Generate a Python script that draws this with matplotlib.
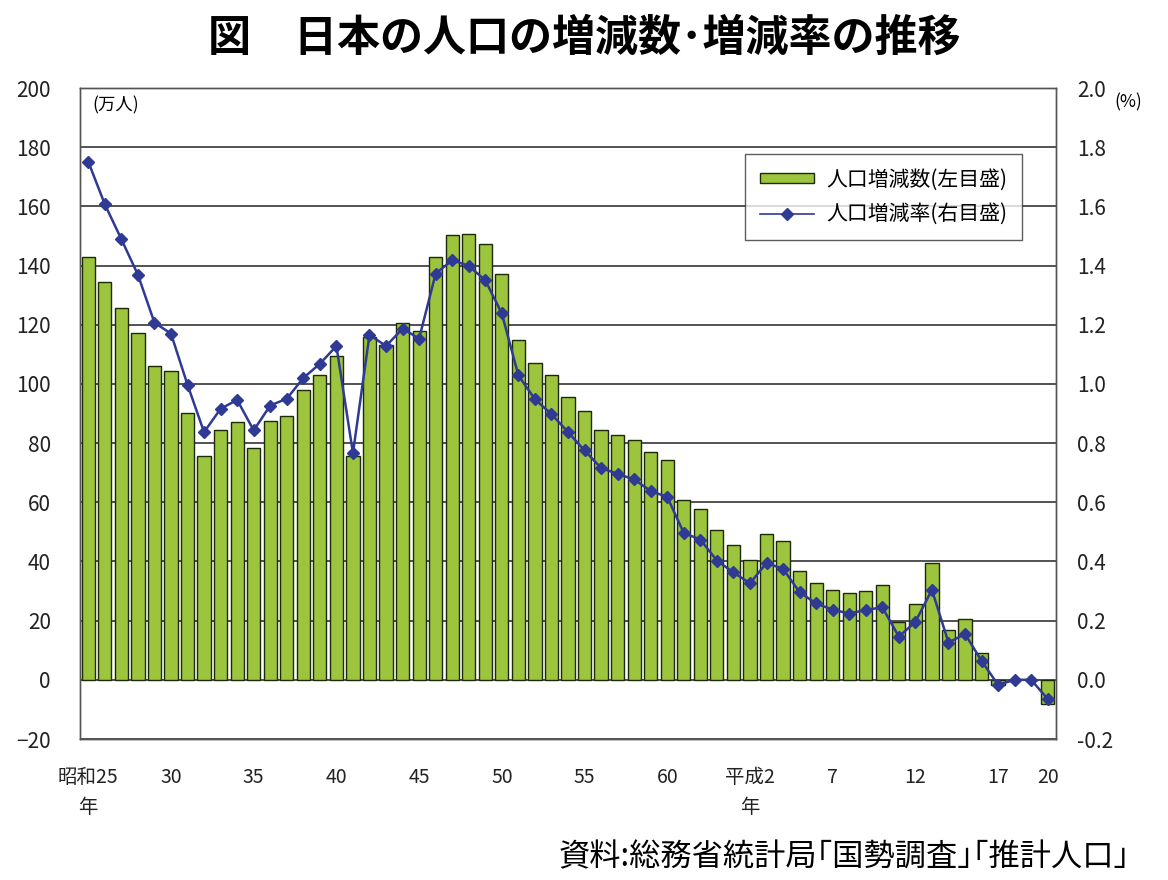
import numpy as np
import matplotlib
matplotlib.use("Agg")
import matplotlib.pyplot as plt
from matplotlib.patches import Patch
from matplotlib.lines import Line2D

plt.rcParams['font.family'] = ['Noto Sans CJK JP', 'DejaVu Sans']

# 昭和25年(1950) - 平成20年(2008)
change = [142.9, 134.5, 125.8, 117.2, 105.9, 104.2, 90.1, 75.8, 84.3, 87.1,
          78.2, 87.4, 89.1, 97.8, 102.9, 109.5, 75.8, 115.8, 113.0, 120.7,
          117.8, 142.9, 150.3, 150.8, 147.3, 137.2, 115.0, 107.0, 102.9, 95.5,
          90.8, 84.3, 82.8, 80.9, 76.9, 74.3, 60.8, 57.8, 50.7, 45.7,
          40.5, 49.3, 47.0, 36.9, 32.7, 30.5, 29.2, 29.9, 32.1, 19.7,
          25.6, 39.5, 16.9, 20.5, 9.0, -1.9, 0.1, 0.1, -8.2]
rate = [1.751, 1.607, 1.489, 1.369, 1.207, 1.170, 0.997, 0.837, 0.916, 0.946,
        0.843, 0.927, 0.950, 1.020, 1.068, 1.128, 0.766, 1.166, 1.128, 1.187,
        1.153, 1.373, 1.418, 1.399, 1.350, 1.238, 1.029, 0.948, 0.898, 0.837,
        0.775, 0.716, 0.696, 0.677, 0.638, 0.618, 0.496, 0.474, 0.403, 0.363,
        0.326, 0.395, 0.375, 0.296, 0.258, 0.237, 0.224, 0.236, 0.245, 0.146,
        0.196, 0.304, 0.126, 0.155, 0.064, -0.017, 0.000, 0.000, -0.065]
tick_pos = [0, 5, 10, 15, 20, 25, 30, 35, 40, 45, 50, 55, 58]
tick_labels = ["昭和25\n年", "30", "35", "40", "45", "50", "55", "60",
               "平成2\n年", "7", "12", "17", "20"]

bar_color = '#9cc43c'
line_color = '#2e3a94'
frame_color = '#555555'

fig = plt.figure(figsize=(11.68, 8.8), dpi=100)
ax = fig.add_axes([80 / 1168, 1 - 739 / 880, 976 / 1168, 651 / 880])
ax2 = ax.twinx()

x = np.arange(len(change))
ax.bar(x, change, width=0.8, color=bar_color, edgecolor='#1c2a05', linewidth=1.0, zorder=2)
ax.set_xlim(-0.5, len(change) - 0.5)
ax.set_ylim(-20, 200)
ax.set_yticks(np.arange(-20, 201, 20))
ax.yaxis.grid(True, color='#444444', linewidth=1.3)
ax.set_axisbelow(True)

ax2.plot(x, rate, color=line_color, linewidth=1.8, marker='D', markersize=6,
         markerfacecolor=line_color, markeredgecolor=line_color, zorder=3)
ax2.set_ylim(-0.2, 2.0)
ax2.set_yticks(np.arange(-0.2, 2.01, 0.2))
ax2.set_yticklabels(['%.1f' % v for v in np.arange(-0.2, 2.01, 0.2)])

ax.set_xticks(tick_pos)
ax.set_xticklabels(tick_labels, linespacing=1.6)

for a in (ax, ax2):
    for s in a.spines.values():
        s.set_color(frame_color)
        s.set_linewidth(1.0)
    a.tick_params(length=0, labelsize=15, colors='#222222')
ax.tick_params(axis='x', labelsize=14, pad=20)
ax.tick_params(axis='y', pad=21)
ax2.tick_params(axis='y', pad=15)

fig.text(0.5, 1 - 38 / 880, "図　日本の人口の増減数･増減率の推移", ha='center', va='center',
         fontsize=31, fontweight='bold')
fig.text(92 / 1168, 1 - 105 / 880, "(万人)", ha='left', va='center', fontsize=12.5)
fig.text(1114 / 1168, 1 - 102 / 880, "(%)", ha='left', va='center', fontsize=12.5)
fig.text(1130 / 1168, 1 - 857 / 880, "資料:総務省統計局｢国勢調査｣｢推計人口｣", ha='right',
         va='center', fontsize=22.5)

handles = [Patch(facecolor=bar_color, edgecolor='#1c2a05', linewidth=1.0),
           Line2D([0], [0], color=line_color, linewidth=1.2, marker='D', markersize=6)]
leg = ax2.legend(handles, ["人口増減数(左目盛)", "人口増減率(右目盛)"],
                 loc='upper right', bbox_to_anchor=(1022 / 1168, 1 - 154 / 880),
                 bbox_transform=fig.transFigure, borderaxespad=0, fontsize=15,
                 frameon=True, fancybox=False, handlelength=2.6, handleheight=0.4,
                 borderpad=0.7, labelspacing=0.6, handletextpad=0.6)
leg.get_frame().set_edgecolor('#333333')
leg.get_frame().set_linewidth(1.0)

fig.savefig("out.png", dpi=100)
